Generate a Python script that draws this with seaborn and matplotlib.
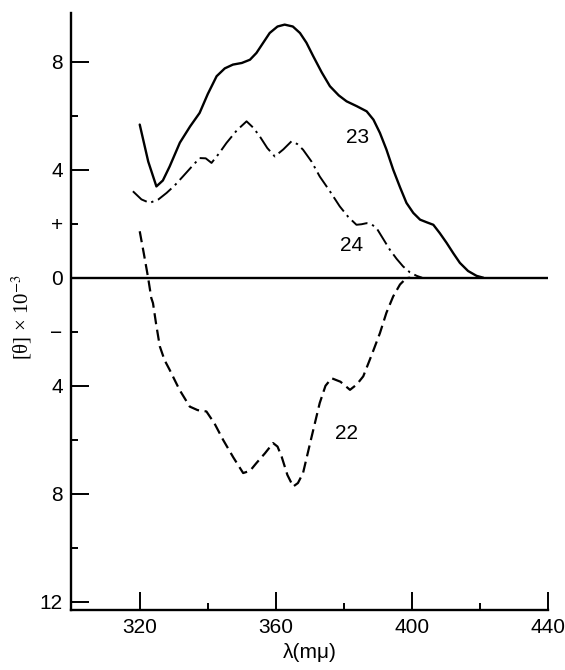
import numpy as np
import pandas as pd
import matplotlib
matplotlib.use("Agg")
import matplotlib.pyplot as plt
import seaborn as sns

# Curve 23 (solid)
x23 = [320, 322.5, 324.9, 326.8, 328.8, 331.8, 334.8, 337.6, 340.0, 342.6, 345.0, 347.4, 350.0, 352.4, 354.3,
       356.3, 358.2, 360.5, 362.6, 365.0, 367.1, 369.0, 371.0, 373.5, 375.9, 378.5, 380.8, 383.8, 386.7, 388.7,
       390.6, 392.5, 394.5, 396.5, 398.4, 400.4, 402.4, 404.4, 406.3, 408.2, 410.2, 412.2, 414.1, 416.5, 419.0, 421.0]
y23 = [5.67, 4.3, 3.38, 3.6, 4.12, 5.0, 5.6, 6.1, 6.8, 7.46, 7.75, 7.89, 7.95, 8.07, 8.32,
       8.7, 9.06, 9.3, 9.37, 9.3, 9.06, 8.7, 8.2, 7.6, 7.09, 6.75, 6.53, 6.35, 6.16, 5.85,
       5.36, 4.75, 4.0, 3.35, 2.77, 2.4, 2.15, 2.05, 1.96, 1.65, 1.29, 0.9, 0.55, 0.25, 0.07, 0.0]

# Curve 24 (dash-dot)
x24 = [318.0, 320.5, 322.9, 325.5, 327.9, 330.3, 332.7, 335.2, 337.6, 339.4, 341.1, 343.3, 345.5, 348.5, 351.4,
       353.4, 355.3, 357.5, 359.7, 362.2, 364.6, 366.3, 368.0, 370.5, 372.9, 375.9, 378.8, 381.3, 383.7, 385.2,
       386.7, 388.2, 389.6, 391.5, 393.5, 395.5, 397.4, 399.4, 401.4, 403.0]
y24 = [3.2, 2.9, 2.77, 2.9, 3.14, 3.42, 3.75, 4.1, 4.43, 4.42, 4.25, 4.6, 4.99, 5.45, 5.79,
       5.55, 5.23, 4.8, 4.49, 4.75, 5.05, 4.95, 4.74, 4.3, 3.75, 3.2, 2.64, 2.25, 1.96, 1.98,
       2.02, 1.97, 1.84, 1.45, 1.04, 0.7, 0.42, 0.2, 0.07, 0.0]

# Curve 22 (dashed)
x22 = [320.0, 321.2, 322.4, 323.4, 323.9, 324.8, 325.9, 327.3, 328.8, 331.7, 334.7, 337.0, 339.6, 342.0, 344.5,
       347.5, 350.4, 352.4, 354.3, 356.8, 359.2, 360.5, 361.7, 363.4, 365.1, 366.5, 368.0, 370.5, 372.9, 374.6,
       376.4, 379.0, 381.8, 383.8, 385.7, 388.2, 390.6, 392.5, 394.5, 396.5, 398.4, 399.5]
y22 = [1.72, 0.9, 0.05, -0.75, -0.94, -1.7, -2.54, -3.05, -3.41, -4.15, -4.77, -4.9, -4.95, -5.4, -6.0,
       -6.65, -7.23, -7.15, -6.86, -6.5, -6.12, -6.25, -6.62, -7.3, -7.73, -7.6, -7.23, -5.9, -4.64, -4.0,
       -3.72, -3.85, -4.15, -3.95, -3.65, -2.85, -2.05, -1.3, -0.69, -0.25, -0.01, 0.0]

labels = ["23", "24", "22"]
label_x = [384.0, 382.3, 380.8]
label_y = [5.2, 1.19, -5.75]

yticks_major = [8, 4, 0, -4, -8, -12]
yticks_major_labels = ["8", "4", "0", "4", "8", "12"]
yticks_minor = [6, 2, -2, -6, -10]
yticks_minor_labels = ["", "+", "\u2212", "", ""]
xticks_major = [320, 360, 400, 440]
xticks_minor = [340, 380, 420]

sns.set_style("ticks")
plt.rcParams['font.family'] = ['Liberation Sans', 'DejaVu Sans']
plt.rcParams['text.color'] = 'black'
plt.rcParams['axes.labelcolor'] = 'black'
plt.rcParams['xtick.color'] = 'black'
plt.rcParams['ytick.color'] = 'black'
plt.rcParams['mathtext.fontset'] = 'stix'

fig = plt.figure(figsize=(5.65, 6.7), dpi=100)
ax = fig.add_axes([71/565, 60/670, (548-71)/565, (610-13)/670])

d23 = pd.DataFrame({"x": x23, "y": y23})
d24 = pd.DataFrame({"x": x24, "y": y24})
d22 = pd.DataFrame({"x": x22, "y": y22})

sns.lineplot(data=d23, x="x", y="y", ax=ax, color="black", lw=1.7, sort=False, estimator=None)
sns.lineplot(data=d24, x="x", y="y", ax=ax, color="black", lw=1.4, sort=False, estimator=None)
ax.lines[-1].set_dashes([9, 2.5, 1.2, 2.5])
sns.lineplot(data=d22, x="x", y="y", ax=ax, color="black", lw=1.6, sort=False, estimator=None)
ax.lines[-1].set_dashes([5, 2.5])

ax.axhline(0, color="black", lw=1.7, zorder=1)

for t, lx, ly in zip(labels, label_x, label_y):
    ax.text(lx, ly, t, fontsize=15, ha="center", va="center", color="black")

ax.set_xlim(299.8, 440)
ax.set_ylim(-12.3, 9.8)

ax.set_xticks(xticks_major)
ax.set_xticks(xticks_minor, minor=True)
ax.set_yticks(yticks_major)
ax.set_yticklabels(yticks_major_labels)
ax.set_yticks(yticks_minor, minor=True)
ax.set_yticklabels(yticks_minor_labels, minor=True)

ax.tick_params(axis="both", which="major", direction="in", length=13, width=1.4, labelsize=15, pad=6, colors="black")
ax.tick_params(axis="both", which="minor", direction="in", length=5, width=1.4, labelsize=15, pad=6, colors="black")

for s in ["top", "right"]:
    ax.spines[s].set_visible(False)
for s in ["left", "bottom"]:
    ax.spines[s].set_linewidth(1.7)
    ax.spines[s].set_color("black")

ax.set_xlabel("\u03bb(m\u03bc)", fontsize=15, labelpad=4)
ax.set_ylabel("[\u03b8] \u00d7 10$^{-3}$", fontsize=15, family=["Liberation Serif", "DejaVu Serif"], labelpad=2)
ax.yaxis.set_label_coords(-37/477, 0.49)

fig.savefig("out.png", dpi=100)
